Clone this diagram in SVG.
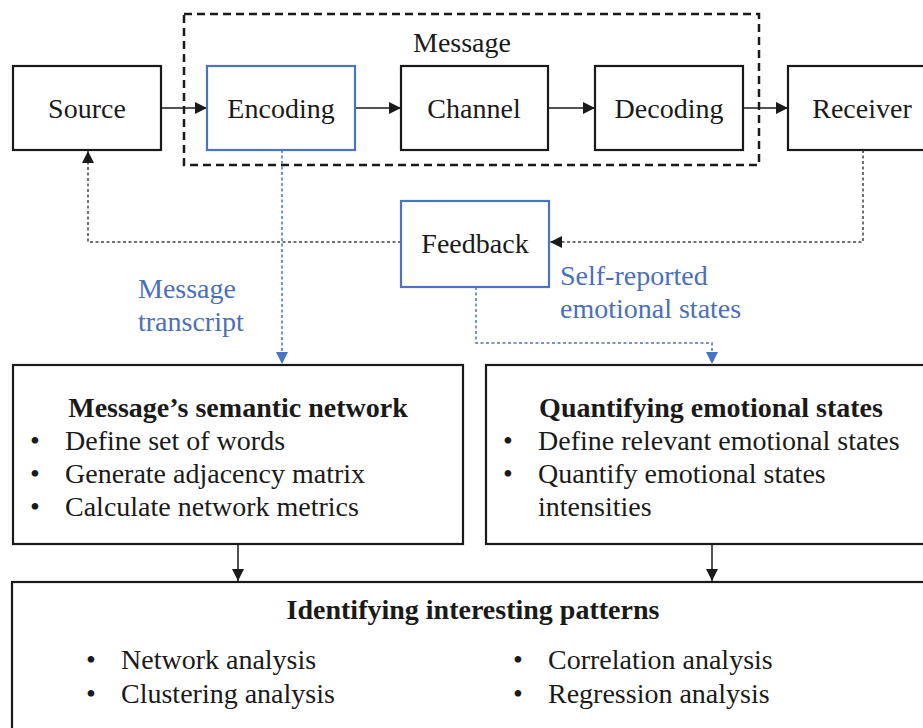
<svg xmlns="http://www.w3.org/2000/svg" width="923" height="728" viewBox="0 0 923 728">
<defs>
<style>
text{font-family:'Liberation Serif','Times New Roman',serif;font-size:28px;fill:#1a1a1a}
.c{text-anchor:middle}
.b{font-weight:bold}
.bl{fill:#4a70b8}
.box{fill:#fff;stroke:#1a1a1a;stroke-width:2.2}
.bbox{fill:#fff;stroke:#4a74c0;stroke-width:2.2}
.ln{fill:none;stroke:#1a1a1a;stroke-width:1.5}
.dot{fill:none;stroke:#444;stroke-width:1.5;stroke-dasharray:3 2.5}
.bdot{fill:none;stroke:#4a74c0;stroke-width:1.5;stroke-dasharray:3 2.5}
</style>
<marker id="ah" viewBox="0 0 10 10" refX="10" refY="5" markerWidth="12" markerHeight="12" markerUnits="userSpaceOnUse" orient="auto"><path d="M0,0L10,5L0,10z" fill="#1a1a1a"/></marker>
<marker id="bh" viewBox="0 0 10 10" refX="10" refY="5" markerWidth="12" markerHeight="12" markerUnits="userSpaceOnUse" orient="auto"><path d="M0,0L10,5L0,10z" fill="#4a74c0"/></marker>
</defs>
<rect width="923" height="728" fill="#fff"/>
<g id="message-group">
<rect x="184" y="14" width="575" height="151" fill="none" stroke="#1a1a1a" stroke-width="2.5" stroke-dasharray="8 5"/>
<text class="c" x="462" y="52">Message</text>
</g>
<g id="connectors">
<line class="ln" x1="161" y1="108" x2="207" y2="108" marker-end="url(#ah)"/>
<line class="ln" x1="355" y1="108" x2="401" y2="108" marker-end="url(#ah)"/>
<line class="ln" x1="548" y1="108" x2="595" y2="108" marker-end="url(#ah)"/>
<line class="ln" x1="743" y1="108" x2="788" y2="108" marker-end="url(#ah)"/>
<polyline class="dot" points="401,242 88,242 88,151" marker-end="url(#ah)"/>
<polyline class="dot" points="863,150 863,242 550,242" marker-end="url(#ah)"/>
<polyline class="bdot" points="282,150 282,364" marker-end="url(#bh)"/>
<polyline class="bdot" points="476,287 476,343 712,343 712,364" marker-end="url(#bh)"/>
<line class="ln" x1="238" y1="544" x2="238" y2="581" marker-end="url(#ah)"/>
<line class="ln" x1="712" y1="544" x2="712" y2="581" marker-end="url(#ah)"/>
<text class="bl" x="138" y="298">Message</text>
<text class="bl" x="138" y="331">transcript</text>
<text class="bl" x="560" y="285">Self-reported</text>
<text class="bl" x="560" y="318">emotional states</text>
</g>
<g id="source"><rect class="box" x="13" y="66" width="148" height="84"/><text class="c" x="87" y="118">Source</text></g>
<g id="encoding"><rect class="bbox" x="207" y="66" width="148" height="84"/><text class="c" x="281" y="118">Encoding</text></g>
<g id="channel"><rect class="box" x="401" y="66" width="147" height="84"/><text class="c" x="474" y="118">Channel</text></g>
<g id="decoding"><rect class="box" x="595" y="66" width="148" height="84"/><text class="c" x="669" y="118">Decoding</text></g>
<g id="receiver"><rect class="box" x="788" y="66" width="148" height="84"/><text class="c" x="862" y="118">Receiver</text></g>
<g id="feedback"><rect class="bbox" x="401" y="201" width="148" height="86"/><text class="c" x="475" y="253">Feedback</text></g>
<g id="semantic-network">
<rect class="box" x="13" y="365" width="450" height="179"/>
<text class="c b" x="238" y="417">Message’s semantic network</text>
<text x="30" y="450">•</text><text x="65" y="450">Define set of words</text>
<text x="30" y="483">•</text><text x="65" y="483">Generate adjacency matrix</text>
<text x="30" y="516">•</text><text x="65" y="516">Calculate network metrics</text>
</g>
<g id="emotional-states">
<rect class="box" x="486" y="365" width="450" height="179"/>
<text class="c b" x="711" y="417">Quantifying emotional states</text>
<text x="503" y="450">•</text><text x="538" y="450">Define relevant emotional states</text>
<text x="503" y="483">•</text><text x="538" y="483">Quantify emotional states</text>
<text x="538" y="516">intensities</text>
</g>
<g id="patterns">
<rect class="box" x="12" y="582" width="924" height="160"/>
<text class="c b" x="473" y="619">Identifying interesting patterns</text>
<text x="86" y="669">•</text><text x="121" y="669">Network analysis</text>
<text x="86" y="703">•</text><text x="121" y="703">Clustering analysis</text>
<text x="513" y="669">•</text><text x="548" y="669">Correlation analysis</text>
<text x="513" y="703">•</text><text x="548" y="703">Regression analysis</text>
</g>
</svg>
